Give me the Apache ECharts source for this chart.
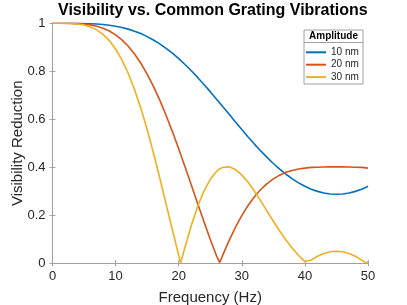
<!DOCTYPE html>
<html><head><meta charset="utf-8">
<script src="https://cdn.jsdelivr.net/npm/echarts@6/dist/echarts.min.js"></script>
<style>html,body{margin:0;padding:0;background:#fff}#c{width:407px;height:305px}</style>
</head><body><div id="c"></div>
<script>
const freq = [0,1,2,3,4,5,6,7,8,9,10,11,12,13,14,15,16,17,18,19,20,20.3,21,22,23,24,25,26,26.5,27,28,29,30,31,32,33,34,35,36,37,38,39,40,40.3,41,42,43,44,45,46,47,48,49,49.7,50];
const amp10 = [1.000,1.000,1.000,0.9999,0.9997,0.9992,0.9983,0.9969,0.9948,0.9919,0.9878,0.9825,0.9757,0.9673,0.9571,0.9445,0.9303,0.9144,0.8957,0.8755,0.8530,0.8461,0.8284,0.8024,0.7745,0.7452,0.7152,0.6839,0.6683,0.6522,0.6206,0.5885,0.5572,0.5265,0.4967,0.4682,0.4412,0.4158,0.3925,0.3711,0.3519,0.3352,0.3208,0.3170,0.3089,0.2997,0.2930,0.2890,0.2876,0.2890,0.2930,0.2997,0.3089,0.3170,0.3208];
const amp20 = [1.000,1.000,0.9999,0.9996,0.9987,0.9968,0.9933,0.9878,0.9795,0.9677,0.9517,0.9309,0.9046,0.8723,0.8335,0.7885,0.7372,0.6799,0.6169,0.5488,0.4770,0.4548,0.4023,0.3260,0.2494,0.1737,0.1004,0.0305,0.0031,0.0352,0.0958,0.1503,0.1988,0.2411,0.2772,0.3074,0.3321,0.3519,0.3673,0.3790,0.3870,0.3930,0.3967,0.3977,0.3995,0.4005,0.4013,0.4018,0.4020,0.4018,0.4013,0.4005,0.3995,0.3977,0.3967];
const amp30 = [1.000,1.000,0.9998,0.9990,0.9970,0.9927,0.9850,0.9727,0.9541,0.9280,0.8930,0.8479,0.7918,0.7245,0.6458,0.5572,0.4598,0.3556,0.2477,0.1389,0.0329,0.0017,0.0671,0.1578,0.2364,0.3009,0.3498,0.3826,0.3930,0.3996,0.4019,0.3906,0.3684,0.3379,0.3009,0.2601,0.2176,0.1754,0.1346,0.0968,0.0626,0.0327,0.0068,0.0005,0.0135,0.0296,0.0409,0.0478,0.0501,0.0478,0.0409,0.0296,0.0135,0.0005,0.0068];
const seriesNames = ['10 nm','20 nm','30 nm'];
const colors = ['#0072BD','#D95319','#EDB120'];
const xTicks = {min:0, max:50, interval:10};
const yTicks = {min:0, max:1, interval:0.2};
const titleText = 'Visibility vs. Common Grating Vibrations';
const xName = 'Frequency (Hz)';
const yName = 'Visibility Reduction';
const legendTitle = 'Amplitude';

const F = 'Liberation Sans, Arial, Helvetica, sans-serif';
const axisGray = '#a0a0a0';
const txt = '#262626';
const G = {left:52.5, right:39, top:23.3, bottom:41.7, outerBoundsMode:'none', containLabel:false};
const chart = echarts.init(document.getElementById('c'), null, {renderer:'canvas'});
function pairs(arr){return freq.map((f,i)=>[f,arr[i]]);}
const baseX = {type:'value', min:xTicks.min, max:xTicks.max, interval:xTicks.interval,
  axisLine:{show:true,lineStyle:{color:axisGray,width:1}}, axisTick:{show:true,inside:true,length:3,lineStyle:{color:axisGray}},
  splitLine:{show:false}};
const baseY = {type:'value', min:yTicks.min, max:yTicks.max, interval:yTicks.interval,
  axisLine:{show:true,lineStyle:{color:axisGray,width:1}}, axisTick:{show:true,inside:true,length:3,lineStyle:{color:axisGray}},
  splitLine:{show:false}};
chart.setOption({
  animation:false,
  title:{text:titleText, left:58, top:3, padding:0, textStyle:{fontFamily:F, fontSize:16, fontWeight:'bold', color:'#000'}},
  grid:G,
  xAxis:[
    Object.assign({}, baseX, {position:'bottom', name:xName, nameLocation:'middle', nameGap:27, nameMoveOverlap:false,
      nameTextStyle:{fontFamily:F, fontSize:15, color:txt},
      axisLabel:{show:true, margin:7, fontFamily:F, fontSize:13, color:txt}}),
    Object.assign({}, baseX, {position:'top', axisLabel:{show:false}})
  ],
  yAxis:[
    Object.assign({}, baseY, {position:'left', name:yName, nameLocation:'middle', nameGap:27, nameMoveOverlap:false,
      nameTextStyle:{fontFamily:F, fontSize:15, color:txt},
      axisLabel:{show:true, margin:7, fontFamily:F, fontSize:13, color:txt, formatter:v=>String(+v.toFixed(1))}}),
    Object.assign({}, baseY, {position:'right', axisLabel:{show:false}})
  ],
  legend:{orient:'vertical', left:306, top:46.3, padding:0, itemWidth:20, itemHeight:2, itemGap:0.4, icon:'rect',
    textStyle:{fontFamily:F, fontSize:10, color:txt, lineHeight:12}, data:seriesNames, selectedMode:false},
  graphic:[
    {type:'rect', z:3, shape:{x:304, y:30, width:59, height:54}, style:{fill:'#fff', stroke:axisGray, lineWidth:1}},
    {type:'line', z:3, shape:{x1:304, y1:42.5, x2:363, y2:42.5}, style:{stroke:axisGray, lineWidth:1}},
    {type:'text', z:5, x:333.5, y:36.5, style:{text:legendTitle, fontFamily:F, fontSize:10, fontWeight:'bold', fill:'#000', align:'center', verticalAlign:'middle'}}
  ],
  series:[amp10, amp20, amp30].map((arr,i)=>({
    name:seriesNames[i], type:'line', data:pairs(arr), showSymbol:false, symbol:'none', smooth:false,
    color:colors[i], lineStyle:{color:colors[i], width:1.6}, xAxisIndex:0, yAxisIndex:0, z:2
  }))
});
</script></body></html>
